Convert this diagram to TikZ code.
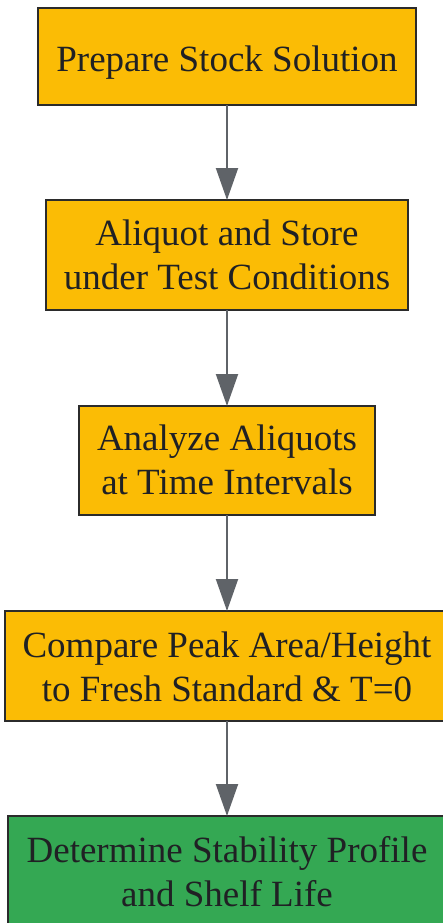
\documentclass[tikz,border=0pt]{standalone}
\usepackage{fontspec}
\setmainfont{Liberation Serif}
\usetikzlibrary{arrows.meta}
\definecolor{boxorange}{HTML}{FBBC05}
\definecolor{boxgreen}{HTML}{34A853}
\definecolor{txt}{HTML}{202124}
\definecolor{edge}{HTML}{2B2B2B}
\definecolor{arr}{HTML}{5F6368}
\newcommand{\boxtext}[2]{\raisebox{-#1}[\height][\depth]{\begin{tabular}{@{}c@{}}#2\end{tabular}}}
\begin{document}
\begin{tikzpicture}[x=1pt,y=-1pt,
  stepbox/.style={draw=edge, line width=2pt, fill=boxorange, text=txt,
    inner sep=0pt, outer sep=0pt, font=\fontsize{37}{43.5}\selectfont},
  endbox/.style={stepbox, fill=boxgreen},
  flow/.style={draw=arr, line width=2pt, -{Triangle[length=32pt,width=22pt]}}]
\useasboundingbox (0,0) rectangle (443,923);
\clip (0,0) rectangle (443,923);
\node[stepbox, minimum width=378pt, minimum height=97pt] (b1) at (227,56.5) {\boxtext{6pt}{Prepare Stock Solution}};
\node[stepbox, minimum width=362pt, minimum height=110pt] (b2) at (227,255) {\boxtext{4pt}{Aliquot and Store\\under Test Conditions}};
\node[stepbox, minimum width=296pt, minimum height=109pt] (b3) at (227,460.5) {\boxtext{3.5pt}{Analyze Aliquots\\at Time Intervals}};
\node[stepbox, minimum width=444pt, minimum height=110pt] (b4) at (227,666) {\boxtext{5pt}{Compare Peak Area/Height\\to Fresh Standard \& T=0}};
\node[endbox, minimum width=438pt, minimum height=110pt] (b5) at (227,871) {\boxtext{5pt}{Determine Stability Profile\\and Shelf Life}};
\draw[flow] (b1) -- (b2);
\draw[flow] (b2) -- (b3);
\draw[flow] (b3) -- (b4);
\draw[flow] (b4) -- (b5);
\end{tikzpicture}
\end{document}
